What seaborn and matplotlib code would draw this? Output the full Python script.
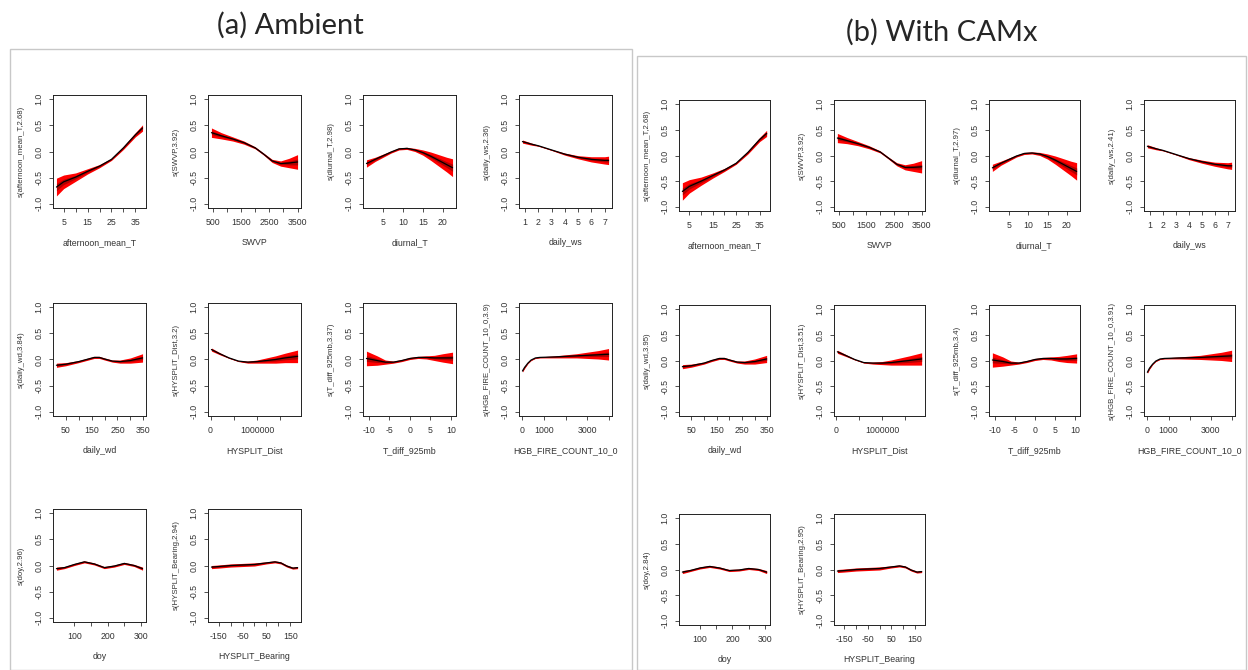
import numpy as np
import seaborn as sns
import matplotlib.pyplot as plt
from matplotlib.patches import Rectangle

W, H = 1248, 670

# ---- x grids (shared by both panels) ----
aft_x = [2, 5, 10, 15, 20, 25, 30, 35, 38]
swvp_x = [450, 800, 1200, 1600, 2000, 2300, 2600, 2900, 3200, 3500]
diur_x = [0.8, 3, 5, 7, 9, 11, 13, 15, 17, 19, 21, 22.5]
ws_x = [0.8, 1.5, 2, 3, 4, 5, 6, 7, 7.3]
wd_x = [14, 50, 100, 130, 160, 180, 200, 230, 260, 300, 347]
dist_x = [20000, 200000, 400000, 600000, 800000, 1000000, 1200000, 1400000, 1600000, 1870000]
tdiff_x = [-10.6, -8, -6, -4, -2, 0, 2, 4, 6, 8, 10.4]
fire_x = [0, 100, 250, 400, 600, 800, 1500, 2500, 3000, 3500, 3980]
doy_x = [46, 70, 100, 130, 160, 190, 220, 250, 280, 305]
bear_x = [-180, -150, -100, -50, 0, 50, 85, 110, 135, 160, 180]

# ---- (a) Ambient: smooth estimates and band half-widths ----
a_aft_fit = [-0.68, -0.58, -0.49, -0.38, -0.28, -0.15, 0.07, 0.32, 0.45]
a_aft_se = [0.17, 0.13, 0.08, 0.05, 0.03, 0.02, 0.03, 0.04, 0.06]
a_swvp_fit = [0.36, 0.30, 0.24, 0.17, 0.07, -0.05, -0.18, -0.23, -0.22, -0.20]
a_swvp_se = [0.09, 0.06, 0.04, 0.03, 0.02, 0.02, 0.03, 0.05, 0.09, 0.14]
a_diur_fit = [-0.23, -0.15, -0.08, -0.01, 0.05, 0.06, 0.03, -0.02, -0.09, -0.17, -0.25, -0.31]
a_diur_se = [0.07, 0.04, 0.03, 0.02, 0.02, 0.02, 0.03, 0.05, 0.08, 0.11, 0.14, 0.17]
a_ws_fit = [0.19, 0.14, 0.11, 0.03, -0.05, -0.11, -0.15, -0.17, -0.17]
a_ws_se = [0.03, 0.02, 0.01, 0.01, 0.02, 0.03, 0.05, 0.07, 0.08]
a_wd_fit = [-0.11, -0.09, -0.04, 0.0, 0.04, 0.04, 0.01, -0.03, -0.04, -0.02, 0.03]
a_wd_se = [0.04, 0.03, 0.02, 0.02, 0.02, 0.02, 0.02, 0.02, 0.03, 0.05, 0.08]
a_dist_fit = [0.19, 0.11, 0.03, -0.03, -0.05, -0.04, -0.02, 0.0, 0.03, 0.06]
a_dist_se = [0.03, 0.02, 0.01, 0.01, 0.02, 0.03, 0.05, 0.07, 0.09, 0.12]
a_tdiff_fit = [0.02, -0.02, -0.05, -0.05, -0.02, 0.02, 0.04, 0.04, 0.03, 0.03, 0.03]
a_tdiff_se = [0.14, 0.09, 0.04, 0.02, 0.02, 0.02, 0.02, 0.03, 0.05, 0.08, 0.11]
a_fire_fit = [-0.22, -0.15, -0.07, -0.01, 0.03, 0.04, 0.05, 0.07, 0.08, 0.09, 0.10]
a_fire_se = [0.02, 0.02, 0.01, 0.01, 0.01, 0.01, 0.02, 0.04, 0.06, 0.08, 0.11]
a_doy_fit = [-0.06, -0.04, 0.02, 0.07, 0.03, -0.04, -0.01, 0.04, 0.0, -0.06]
a_doy_se = [0.03, 0.02, 0.02, 0.02, 0.02, 0.02, 0.02, 0.02, 0.02, 0.03]
a_bear_fit = [-0.03, -0.02, 0.0, 0.01, 0.02, 0.05, 0.07, 0.05, -0.01, -0.05, -0.04]
a_bear_se = [0.03, 0.03, 0.03, 0.03, 0.03, 0.02, 0.02, 0.02, 0.02, 0.02, 0.02]

# ---- (b) With CAMx ----
b_aft_fit = [-0.70, -0.60, -0.50, -0.39, -0.28, -0.15, 0.06, 0.31, 0.43]
b_aft_se = [0.17, 0.13, 0.08, 0.05, 0.03, 0.02, 0.03, 0.04, 0.06]
b_swvp_fit = [0.34, 0.29, 0.23, 0.16, 0.07, -0.05, -0.17, -0.23, -0.23, -0.22]
b_swvp_se = [0.09, 0.06, 0.04, 0.03, 0.02, 0.02, 0.03, 0.05, 0.08, 0.12]
b_diur_fit = [-0.24, -0.15, -0.08, -0.01, 0.04, 0.05, 0.03, -0.02, -0.09, -0.17, -0.25, -0.31]
b_diur_se = [0.07, 0.04, 0.03, 0.02, 0.02, 0.02, 0.03, 0.05, 0.08, 0.11, 0.14, 0.17]
b_ws_fit = [0.18, 0.13, 0.10, 0.02, -0.06, -0.12, -0.17, -0.20, -0.20]
b_ws_se = [0.03, 0.02, 0.01, 0.01, 0.02, 0.03, 0.04, 0.06, 0.07]
b_wd_fit = [-0.12, -0.10, -0.05, 0.0, 0.04, 0.04, 0.01, -0.03, -0.04, -0.02, 0.03]
b_wd_se = [0.04, 0.03, 0.02, 0.02, 0.02, 0.02, 0.02, 0.02, 0.03, 0.05, 0.07]
b_dist_fit = [0.17, 0.10, 0.02, -0.04, -0.05, -0.05, -0.04, -0.02, 0.0, 0.03]
b_dist_se = [0.03, 0.02, 0.01, 0.01, 0.02, 0.03, 0.05, 0.07, 0.09, 0.12]
b_tdiff_fit = [0.01, -0.02, -0.05, -0.05, -0.02, 0.02, 0.04, 0.04, 0.03, 0.03, 0.04]
b_tdiff_se = [0.14, 0.09, 0.04, 0.02, 0.02, 0.02, 0.02, 0.03, 0.05, 0.07, 0.09]
b_fire_fit = [-0.23, -0.15, -0.07, -0.01, 0.03, 0.04, 0.05, 0.06, 0.07, 0.08, 0.09]
b_fire_se = [0.02, 0.02, 0.01, 0.01, 0.01, 0.01, 0.02, 0.04, 0.06, 0.08, 0.11]
b_doy_fit = [-0.05, -0.02, 0.03, 0.06, 0.03, -0.02, -0.01, 0.02, 0.0, -0.05]
b_doy_se = [0.03, 0.02, 0.02, 0.02, 0.02, 0.02, 0.02, 0.02, 0.02, 0.03]
b_bear_fit = [-0.03, -0.02, 0.0, 0.01, 0.02, 0.05, 0.07, 0.05, -0.01, -0.05, -0.04]
b_bear_se = [0.03, 0.03, 0.03, 0.03, 0.03, 0.02, 0.02, 0.02, 0.02, 0.02, 0.02]

# ---- axis text ----
x_names = ["afternoon_mean_T", "SWVP", "diurnal_T", "daily_ws", "daily_wd",
           "HYSPLIT_Dist", "T_diff_925mb", "HGB_FIRE_COUNT_10_0", "doy", "HYSPLIT_Bearing"]
a_edf = ["2.68", "3.92", "2.98", "2.36", "3.84", "3.2", "3.37", "3.9", "2.96", "2.94"]
b_edf = ["2.68", "3.92", "2.97", "2.41", "3.95", "3.51", "3.4", "3.91", "2.84", "2.95"]

x_ticks = [
    ([5, 10, 15, 20, 25, 30, 35], ["5", "", "15", "", "25", "", "35"]),
    ([500, 1000, 1500, 2000, 2500, 3000, 3500], ["500", "", "1500", "", "2500", "", "3500"]),
    ([5, 10, 15, 20], ["5", "10", "15", "20"]),
    ([1, 2, 3, 4, 5, 6, 7], ["1", "2", "3", "4", "5", "6", "7"]),
    ([50, 100, 150, 200, 250, 300, 350], ["50", "", "150", "", "250", "", "350"]),
    ([0, 500000, 1000000, 1500000], ["0", "", "1000000", ""]),
    ([-10, -5, 0, 5, 10], ["-10", "-5", "0", "5", "10"]),
    ([0, 1000, 2000, 3000, 4000], ["0", "1000", "", "3000", ""]),
    ([100, 150, 200, 250, 300], ["100", "", "200", "", "300"]),
    ([-150, -100, -50, 0, 50, 100, 150], ["-150", "", "-50", "", "50", "", "150"]),
]
y_ticks = [-1.0, -0.5, 0.0, 0.5, 1.0]
y_tick_labels = ["-1.0", "-0.5", "0.0", "0.5", "1.0"]

xs = [aft_x, swvp_x, diur_x, ws_x, wd_x, dist_x, tdiff_x, fire_x, doy_x, bear_x]
a_fits = [a_aft_fit, a_swvp_fit, a_diur_fit, a_ws_fit, a_wd_fit,
          a_dist_fit, a_tdiff_fit, a_fire_fit, a_doy_fit, a_bear_fit]
a_ses = [a_aft_se, a_swvp_se, a_diur_se, a_ws_se, a_wd_se,
         a_dist_se, a_tdiff_se, a_fire_se, a_doy_se, a_bear_se]
b_fits = [b_aft_fit, b_swvp_fit, b_diur_fit, b_ws_fit, b_wd_fit,
          b_dist_fit, b_tdiff_fit, b_fire_fit, b_doy_fit, b_bear_fit]
b_ses = [b_aft_se, b_swvp_se, b_diur_se, b_ws_se, b_wd_se,
         b_dist_se, b_tdiff_se, b_fire_se, b_doy_se, b_bear_se]


def pix_axes(fig, left, top, width, height):
    return fig.add_axes([left / W, 1 - (top + height) / H, width / W, height / H])


def draw_smooth(ax, x, fit, se, xname, edf, ticks):
    x = np.asarray(x, dtype=float)
    fit = np.asarray(fit)
    se = np.asarray(se)
    ax.fill_between(x, fit - se, fit + se, color="#ff0000", lw=0)
    ax.fill_between(x, fit - 0.4 * se, fit + 0.4 * se, color="#b40000", lw=0)
    sns.lineplot(x=x, y=fit, ax=ax, color="black", lw=0.9)
    ax.set_xmargin(0.04)
    ax.set_ylim(-1.08, 1.08)
    ax.set_xticks(ticks[0], ticks[1])
    ax.set_yticks(y_ticks, y_tick_labels, rotation=90, va="center")
    ax.set_xlabel(xname, fontsize=6.3, labelpad=8, color="#333333")
    ax.set_ylabel(f"s({xname},{edf})", fontsize=5.6, labelpad=7, color="#333333")
    ax.tick_params(direction="out", length=3, width=0.6, labelsize=6.3,
                   colors="#333333", pad=4)
    for sp in ax.spines.values():
        sp.set_linewidth(0.7)
        sp.set_color("#222222")


def main() -> None:
    sns.set_style("ticks")
    plt.rcParams["font.family"] = ["Liberation Sans", "DejaVu Sans"]

    fig = plt.figure(figsize=(W / 100, H / 100), dpi=100)

    # panel frames
    fig.add_artist(Rectangle((10 / W, 0), 622 / W, 1 - 49 / H, transform=fig.transFigure,
                             fill=False, ec="#c8c8c8", lw=1.0))
    fig.add_artist(Rectangle((637 / W, 0), 609 / W, 1 - 56 / H, transform=fig.transFigure,
                             fill=False, ec="#c8c8c8", lw=1.0))

    fig.text(290 / W, 1 - 25 / H, "(a) Ambient", fontsize=21, ha="center", va="center",
             family=["Lato", "DejaVu Sans"])
    fig.text(942 / W, 1 - 32 / H, "(b) With CAMx", fontsize=21, ha="center", va="center",
             family=["Lato", "DejaVu Sans"])

    a_lefts = [53, 208, 363, 519]
    a_tops = [95, 303, 509]
    b_lefts = [679, 834, 989, 1144]
    b_tops = [100, 305, 514]

    for i in range(10):
        r, c = divmod(i, 4)
        ax = pix_axes(fig, a_lefts[c], a_tops[r], 93, 113)
        draw_smooth(ax, xs[i], a_fits[i], a_ses[i], x_names[i], a_edf[i], x_ticks[i])
        ax = pix_axes(fig, b_lefts[c], b_tops[r], 91, 111)
        draw_smooth(ax, xs[i], b_fits[i], b_ses[i], x_names[i], b_edf[i], x_ticks[i])

    fig.savefig("out.png", dpi=100)


if __name__ == "__main__":
    main()
